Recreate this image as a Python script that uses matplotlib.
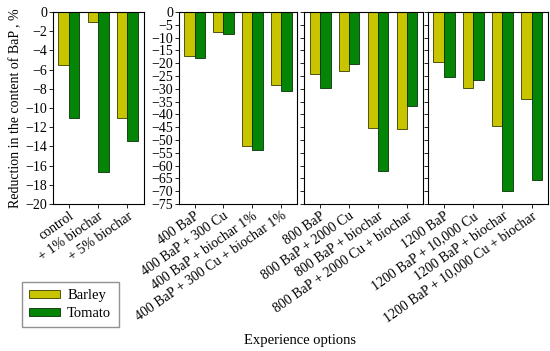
import numpy as np
import matplotlib.pyplot as plt

plt.rcParams['font.family'] = ['Liberation Serif', 'DejaVu Serif']

# Experience options, grouped by BaP dose
labels_1 = ['control', '+ 1% biochar', '+ 5% biochar']
barley_1 = [-5.5, -1.0, -11.1]
tomato_1 = [-11.1, -16.7, -13.4]

labels_2 = ['400 BaP', '400 BaP + 300 Cu', '400 BaP + biochar 1%',
            '400 BaP + 300 Cu + biochar 1%']
barley_2 = [-17.3, -8.0, -52.2, -28.5]
tomato_2 = [-18.0, -8.7, -54.0, -30.9]

labels_3 = ['800 BaP', '800 BaP + 2000 Cu', '800 BaP + biochar',
            '800 BaP + 2000 Cu + biochar']
barley_3 = [-24.4, -23.1, -45.2, -45.8]
tomato_3 = [-29.9, -20.5, -62.2, -36.9]

labels_4 = ['1200 BaP', '1200 BaP + 10,000 Cu', '1200 BaP + biochar',
            '1200 BaP + 10,000 Cu + biochar']
barley_4 = [-19.6, -29.9, -44.5, -34.0]
tomato_4 = [-25.6, -26.5, -69.8, -65.6]

BARLEY = '#c8c400'
TOMATO = '#058505'

fig = plt.figure(figsize=(5.5, 3.51), dpi=100)

boxes = [(0.096, 0.165), (0.325, 0.215), (0.553, 0.216), (0.778, 0.218)]
panels = [(labels_1, barley_1, tomato_1), (labels_2, barley_2, tomato_2),
          (labels_3, barley_3, tomato_3), (labels_4, barley_4, tomato_4)]

w = 0.36
for i, ((left, width), (labs, b, t)) in enumerate(zip(boxes, panels)):
    ax = fig.add_axes([left, 0.419, width, 0.547])
    x = np.arange(len(labs))
    hb = ax.bar(x - w / 2, b, w, color=BARLEY, edgecolor='#3a3a00', linewidth=0.6)
    ht = ax.bar(x + w / 2, t, w, color=TOMATO, edgecolor='#0a300a', linewidth=0.6)
    ax.set_xlim(-0.55, len(labs) - 0.45)
    ax.set_xticks(x)
    ax.set_xticklabels(labs, rotation=35, ha='right', rotation_mode='anchor', fontsize=10)
    if i == 0:
        ax.set_ylim(-20, 0)
        ax.set_yticks(np.arange(-20, 1, 2))
        ax.set_ylabel('Reduction in the content of BaP , %', fontsize=10, labelpad=2)
        handles = (hb, ht)
    else:
        ax.set_ylim(-75, 0)
        ax.set_yticks(np.arange(-75, 1, 5))
    if i > 1:
        ax.set_yticklabels([])
    ax.tick_params(axis='both', direction='out', length=3, width=0.6, pad=1)
    ax.tick_params(axis='y', labelsize=10)
    for s in ax.spines.values():
        s.set_linewidth(0.8)

fig.legend(handles, ['Barley', 'Tomato'], loc='lower left',
           bbox_to_anchor=(0.04, 0.068), borderaxespad=0, fontsize=10.5,
           frameon=True, fancybox=False, edgecolor='#777777', handlelength=2.1,
           handleheight=0.45, borderpad=0.5, labelspacing=0.3, handletextpad=0.5)
fig.text(0.545, 0.02, 'Experience options', ha='center', fontsize=10.5)

fig.savefig('out.png', dpi=100)
